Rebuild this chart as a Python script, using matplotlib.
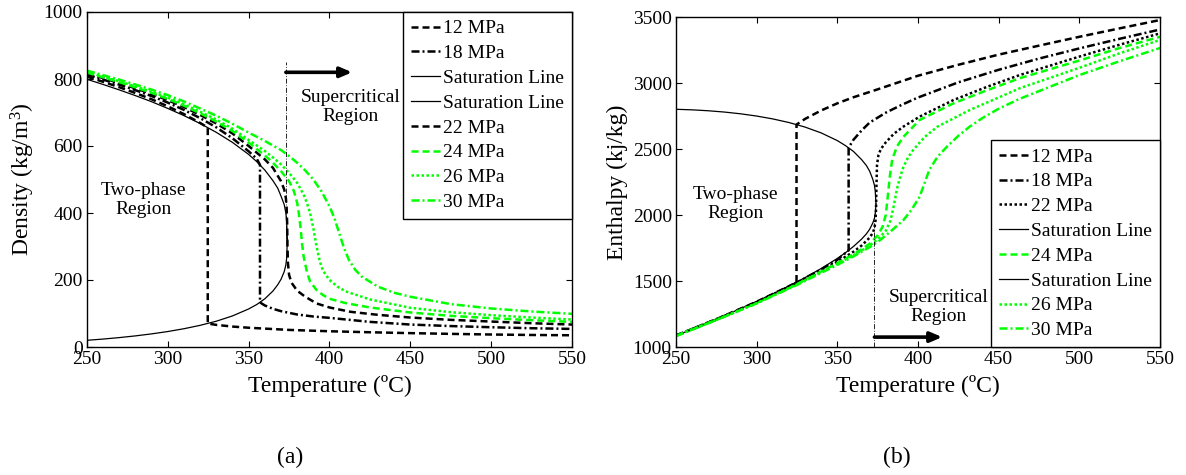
import matplotlib
matplotlib.use('Agg')
import matplotlib.pyplot as plt

plt.rcParams['font.family'] = ['Liberation Serif', 'DejaVu Serif']
plt.rcParams['mathtext.fontset'] = 'custom'
plt.rcParams['mathtext.rm'] = 'Liberation Serif'
plt.rcParams['mathtext.it'] = 'Liberation Serif:italic'

# ---------------- saturation line (both panels) ----------------
T_sat = [250, 260, 270, 280, 290, 300, 310, 320, 330, 340, 350, 355, 360, 365,
         368, 370, 372, 373, 373.5, 373.95]
rho_sat_liq = [799.1, 783.6, 767.4, 750.3, 732.1, 712.1, 690.6, 667.1, 640.7, 610.7,
               574.7, 553.3, 528.1, 496.6, 474.0, 450.5, 425.0, 400.0, 375.0, 322.0]
rho_sat_vap = [20.0, 23.7, 28.1, 33.2, 39.2, 46.2, 54.6, 64.7, 77.0, 92.8,
               113.6, 126.8, 143.9, 167.0, 186.0, 202.0, 225.0, 245.0, 265.0, 322.0]
h_sat_liq = [1085.7, 1134.8, 1184.9, 1236.7, 1290.7, 1344.8, 1402.0, 1462.2, 1525.9, 1594.5,
             1670.9, 1713.7, 1761.5, 1817.0, 1857.0, 1891.0, 1940.0, 1975.0, 2010.0, 2084.3]
h_sat_vap = [2800.9, 2796.6, 2789.7, 2779.9, 2766.7, 2749.6, 2727.9, 2700.6, 2666.0, 2621.8,
             2563.6, 2526.0, 2481.5, 2420.0, 2375.0, 2332.7, 2270.0, 2225.0, 2180.0, 2084.3]

# ---------------- density isobars (kg/m3) ----------------
T_rho_12 = [250, 260, 270, 280, 290, 300, 310, 320, 324.7, 324.7, 330, 340, 350, 375,
            400, 425, 450, 475, 500, 525, 550]
rho_12 = [807.0, 791.6, 775.5, 758.1, 739.4, 718.4, 695.1, 668.8, 655.0, 70.0, 66.0, 61.0,
          57.5, 51.0, 47.0, 44.0, 41.4, 39.2, 37.3, 35.9, 35.0]

T_rho_18 = [250, 260, 270, 280, 290, 300, 310, 320, 330, 340, 350, 355, 357, 357, 360, 365,
            370, 380, 390, 400, 425, 450, 475, 500, 525, 550]
rho_18 = [813.1, 798.2, 783.0, 766.5, 749.0, 729.5, 707.7, 683.2, 655.6, 623.0, 584.0, 562.0,
          543.5, 133.0, 124.0, 114.0, 107.0, 97.0, 91.0, 87.0, 75.0, 67.0, 62.5, 59.0, 56.0, 54.0]

T_rho_22 = [250, 260, 270, 280, 290, 300, 310, 320, 330, 340, 350, 360, 365, 370, 372, 373,
            373.5, 373.8, 374.0, 374.3, 375, 376.5, 380, 385, 392, 400, 413, 430, 450, 475,
            500, 525, 550]
rho_22 = [817.1, 802.6, 788.0, 772.1, 755.4, 736.9, 716.1, 692.8, 667.2, 637.4, 600.0, 560.0,
          535.0, 495.0, 470.0, 445.0, 415.0, 370.0, 300.0, 250.0, 215.0, 192.0, 168.0, 150.0,
          130.0, 118.0, 105.0, 96.0, 88.0, 81.0, 76.0, 71.0, 67.0]

T_rho_24 = [250, 260, 270, 280, 290, 300, 310, 320, 330, 340, 350, 360, 365, 370, 375, 378,
            380, 381, 382, 383, 384, 386, 388, 392, 396, 400, 410, 425, 450, 475, 500, 525, 550]
rho_24 = [819.1, 804.8, 790.5, 774.9, 758.6, 740.6, 720.3, 697.6, 673.0, 644.6, 610.0, 572.0,
          550.0, 525.0, 495.0, 465.0, 430.0, 400.0, 360.0, 310.0, 270.0, 225.0, 195.0, 170.0,
          155.0, 144.0, 131.0, 118.0, 103.0, 93.0, 86.0, 80.0, 75.0]

T_rho_26 = [250, 260, 270, 280, 290, 300, 310, 320, 330, 340, 350, 360, 365, 370, 375, 380,
            384, 386, 388, 390, 392, 394, 396, 400, 405, 410, 425, 450, 475, 500, 525, 550]
rho_26 = [821.1, 807.0, 793.0, 777.7, 761.8, 744.3, 724.5, 702.4, 678.8, 651.8, 618.0, 585.0,
          566.0, 545.0, 520.0, 490.0, 455.0, 430.0, 400.0, 355.0, 300.0, 255.0, 228.0, 200.0,
          180.0, 166.0, 142.0, 117.0, 104.0, 95.0, 88.0, 82.0]

T_rho_30 = [250, 260, 270, 280, 290, 300, 310, 320, 330, 340, 350, 360, 370, 375, 380, 385,
            390, 395, 400, 403, 406, 409, 412, 416, 420, 430, 440, 450, 475, 500, 525, 550]
rho_30 = [825.1, 811.4, 798.0, 783.3, 768.2, 751.7, 732.9, 711.9, 690.4, 666.2, 640.0, 615.0,
          588.0, 570.0, 550.0, 527.0, 500.0, 465.0, 420.0, 385.0, 340.0, 295.0, 260.0, 230.0,
          210.0, 180.0, 162.0, 150.0, 128.0, 115.0, 106.0, 99.0]

# ---------------- enthalpy isobars (kJ/kg) ----------------
T_h_12 = [250, 275, 300, 320, 324.7, 324.7, 330, 340, 350, 360, 375, 400, 425, 450, 475,
          500, 525, 550]
h_12 = [1087, 1211, 1343, 1460, 1491, 2685, 2728, 2792, 2846, 2892, 2952, 3055, 3138, 3215,
        3283, 3350, 3414, 3477]

T_h_18 = [250, 275, 300, 325, 340, 350, 357, 357, 360, 365, 370, 380, 390, 400, 425, 450,
          475, 500, 525, 550]
h_18 = [1087, 1210, 1339, 1488, 1588, 1661, 1732, 2510, 2570, 2640, 2700, 2775, 2835, 2890,
        3005, 3100, 3185, 3262, 3335, 3405]

T_h_22 = [250, 275, 300, 325, 340, 350, 360, 365, 370, 372, 373, 373.7, 374.0, 374.2, 374.6,
          375.5, 377, 380, 385, 391, 401, 422, 443, 463, 500, 525, 550]
h_22 = [1086, 1208, 1336, 1482, 1578, 1645, 1722, 1768, 1828, 1865, 1900, 1960, 2050, 2200,
        2380, 2455, 2500, 2550, 2615, 2670, 2745, 2871, 2972, 3060, 3200, 3290, 3376]

T_h_24 = [250, 275, 300, 325, 340, 350, 360, 365, 370, 375, 378, 380, 381, 382.5, 384, 387,
          391, 401, 422, 443, 463, 500, 525, 550]
h_24 = [1085, 1207, 1334, 1478, 1572, 1635, 1703, 1740, 1782, 1845, 1910, 2000, 2110, 2290,
        2420, 2520, 2593, 2720, 2846, 2946, 3036, 3170, 3265, 3350]

T_h_26 = [250, 275, 300, 325, 340, 350, 360, 365, 370, 375, 380, 383, 385, 387, 389, 391,
          394, 397, 404, 412, 432, 450, 463, 500, 525, 550]
h_26 = [1084, 1206, 1332, 1475, 1568, 1630, 1695, 1730, 1768, 1815, 1880, 1960, 2070, 2200,
        2290, 2366, 2440, 2492, 2590, 2669, 2795, 2890, 2960, 3115, 3225, 3326]

T_h_30 = [250, 275, 300, 325, 340, 350, 360, 370, 376, 383, 391, 396, 401, 404, 407, 412,
          418, 425, 432, 440, 450, 463, 500, 525, 550]
h_30 = [1082, 1204, 1330, 1470, 1562, 1622, 1686, 1756, 1805, 1875, 1962, 2040, 2138, 2240,
        2341, 2440, 2518, 2600, 2669, 2735, 2805, 2880, 3060, 3165, 3265]

# critical temperature marker
T_crit = 373.0

x_ticks = [250, 300, 350, 400, 450, 500, 550]
rho_ticks = [0, 200, 400, 600, 800, 1000]
h_ticks = [1000, 1500, 2000, 2500, 3000, 3500]

# ---------------- styles ----------------
LW = 1.8
DASH = (0, (2.8, 1.6))
DASHDOT = (0, (3.2, 1.2, 0.8, 1.2))
DOT = (0, (1.0, 1.0))
GREEN = '#00ff00'
SAT_LW = 0.9
FS_TICK = 14
FS_LABEL = 17

fig = plt.figure(figsize=(11.86, 4.75), dpi=100)
axA = fig.add_axes([87 / 1186, 1 - 347 / 475, 485 / 1186, 335 / 475])
axB = fig.add_axes([676 / 1186, 1 - 347 / 475, 484 / 1186, 330 / 475])

# ----- (a) density -----
axA.plot(T_rho_12, rho_12, color='k', lw=LW, ls=DASH, label='12 MPa')
axA.plot(T_rho_18, rho_18, color='k', lw=LW, ls=DASHDOT, label='18 MPa')
axA.plot(T_sat, rho_sat_liq, color='k', lw=SAT_LW, label='Saturation Line')
axA.plot(T_sat, rho_sat_vap, color='k', lw=SAT_LW, label='Saturation Line')
axA.plot(T_rho_22, rho_22, color='k', lw=LW, ls=DASH, label='22 MPa')
axA.plot(T_rho_24, rho_24, color=GREEN, lw=LW, ls=DASH, label='24 MPa')
axA.plot(T_rho_26, rho_26, color=GREEN, lw=LW, ls=DOT, label='26 MPa')
axA.plot(T_rho_30, rho_30, color=GREEN, lw=LW, ls=DASHDOT, label='30 MPa')
axA.plot([T_crit, T_crit], [322, 850], color='k', lw=0.6, ls=(0, (6, 2, 1, 2)))
axA.annotate('', xy=(414, 820), xytext=(T_crit, 820),
             arrowprops=dict(arrowstyle='-|>,head_length=0.7,head_width=0.3',
                             color='k', lw=2.6, shrinkA=0, shrinkB=0))
axA.text(413, 716, 'Supercritical\nRegion', ha='center', va='center',
         fontsize=FS_TICK, linespacing=1.15)
axA.text(285, 440, 'Two-phase\nRegion', ha='center', va='center',
         fontsize=FS_TICK, linespacing=1.15)
axA.set_xlim(250, 550)
axA.set_ylim(0, 1000)
axA.set_yticks(rho_ticks)
axA.set_ylabel(r'Density (kg/m$^{\mathrm{3}}$)', fontsize=FS_LABEL)
axA.yaxis.set_label_coords(-0.103, 0.5)

# ----- (b) enthalpy -----
axB.plot(T_h_12, h_12, color='k', lw=LW, ls=DASH, label='12 MPa')
axB.plot(T_h_18, h_18, color='k', lw=LW, ls=DASHDOT, label='18 MPa')
axB.plot(T_h_22, h_22, color='k', lw=LW, ls=DOT, label='22 MPa')
axB.plot(T_sat, h_sat_vap, color='k', lw=SAT_LW, label='Saturation Line')
axB.plot(T_h_24, h_24, color=GREEN, lw=LW, ls=DASH, label='24 MPa')
axB.plot(T_sat, h_sat_liq, color='k', lw=SAT_LW, label='Saturation Line')
axB.plot(T_h_26, h_26, color=GREEN, lw=LW, ls=DOT, label='26 MPa')
axB.plot(T_h_30, h_30, color=GREEN, lw=LW, ls=DASHDOT, label='30 MPa')
axB.plot([T_crit, T_crit], [1000, 2010], color='k', lw=0.6, ls=(0, (6, 2, 1, 2)))
axB.annotate('', xy=(415, 1075), xytext=(T_crit, 1075),
             arrowprops=dict(arrowstyle='-|>,head_length=0.7,head_width=0.3',
                             color='k', lw=2.6, shrinkA=0, shrinkB=0))
axB.text(413, 1303, 'Supercritical\nRegion', ha='center', va='center',
         fontsize=FS_TICK, linespacing=1.15)
axB.text(287, 2085, 'Two-phase\nRegion', ha='center', va='center',
         fontsize=FS_TICK, linespacing=1.15)
axB.set_xlim(250, 550)
axB.set_ylim(1000, 3500)
axB.set_yticks(h_ticks)
axB.set_ylabel('Enthalpy (kj/kg)', fontsize=FS_LABEL)
axB.yaxis.set_label_coords(-0.099, 0.5)

for ax, loc in ((axA, 'upper right'), (axB, 'lower right')):
    ax.set_xticks(x_ticks)
    ax.set_xlabel('Temperature (ºC)', fontsize=FS_LABEL, labelpad=5)
    ax.tick_params(direction='in', top=True, right=True, length=4, width=0.8,
                   labelsize=FS_TICK, pad=3)
    for sp in ax.spines.values():
        sp.set_linewidth(1.0)
    leg = ax.legend(loc=loc, borderaxespad=0, fontsize=FS_TICK, fancybox=False,
                    framealpha=1, edgecolor='k', handlelength=1.5, handletextpad=0.15,
                    borderpad=0.4, labelspacing=0.37)
    leg.get_frame().set_linewidth(1.0)

fig.text(290 / 1186, 1 - 457 / 475, '(a)', ha='center', va='center', fontsize=17)
fig.text(897 / 1186, 1 - 457 / 475, '(b)', ha='center', va='center', fontsize=17)

fig.savefig('out.png', dpi=100)
